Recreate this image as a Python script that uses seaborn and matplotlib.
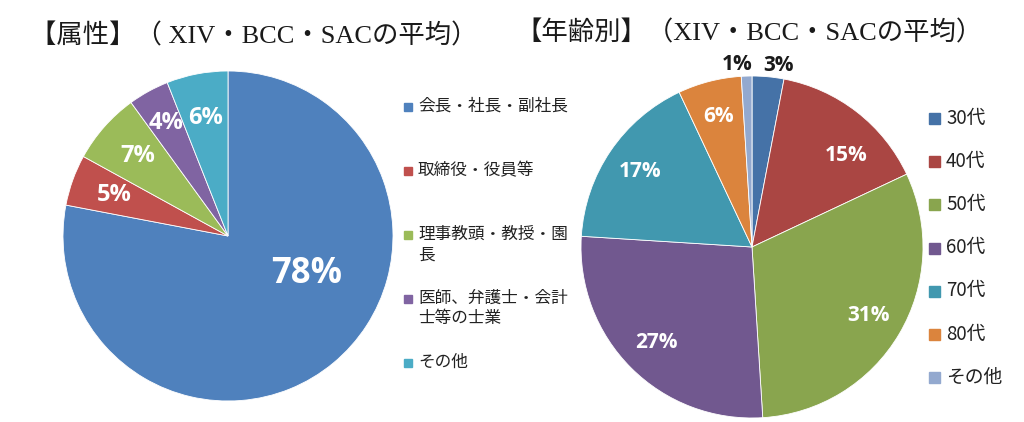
import matplotlib
matplotlib.use("Agg")
import matplotlib.pyplot as plt
from matplotlib.patches import Rectangle
import seaborn as sns
import numpy as np

sns.set_theme(style="white")
plt.rcParams['font.family'] = ['Noto Sans CJK JP', 'DejaVu Sans']

# data
attr_labels = ['会長・社長・副社長', '取締役・役員等', '理事教頭・教授・園\n長',
               '医師、弁護士・会計\n士等の士業', 'その他']
attr_values = [78, 5, 7, 4, 6]
attr_colors = ['#4F81BD', '#C0504D', '#9BBB59', '#8064A2', '#4BACC6']

age_labels = ['30代', '40代', '50代', '60代', '70代', '80代', 'その他']
age_values = [3, 15, 31, 27, 17, 6, 1]
age_colors = ['#4572A7', '#AA4643', '#89A54E', '#71588F', '#4198AF', '#DB843D', '#93A9CF']

W, H = 1024, 422
fig = plt.figure(figsize=(W / 100, H / 100), dpi=100)
fig.patch.set_facecolor('white')


def axes_at(cx, cy, r):
    return fig.add_axes([(cx - r) / W, (H - cy - r) / H, 2 * r / W, 2 * r / H])


def place(txt, wedge, r, dang=0.0):
    ang = np.deg2rad((wedge.theta1 + wedge.theta2) / 2 + dang)
    txt.set_position((r * np.cos(ang), r * np.sin(ang)))


pct_fmt = lambda p: f'{p:.0f}%'
lbl_font = ['Open Sans', 'Noto Sans CJK JP']

# left pie
ax1 = axes_at(228, 236, 165)
w1, _, t1 = ax1.pie(attr_values, colors=attr_colors, startangle=90, counterclock=False,
                    autopct=pct_fmt, pctdistance=0.73,
                    wedgeprops=dict(edgecolor='white', linewidth=0.6))
for t in t1:
    t.set_color('white')
    t.set_fontweight('bold')
    t.set_fontsize(17)
    t.set_family(lbl_font)
t1[0].set_fontsize(25)
place(t1[0], w1[0], 0.53, 25)
place(t1[3], w1[3], 0.78)
ax1.set_xlim(-1, 1)
ax1.set_ylim(-1, 1)
ax1.axis('off')

# right pie
ax2 = axes_at(752, 247, 171)
w2, _, t2 = ax2.pie(age_values, colors=age_colors, startangle=90, counterclock=False,
                    autopct=pct_fmt, pctdistance=0.79,
                    wedgeprops=dict(edgecolor='white', linewidth=0.6))
for t in t2:
    t.set_color('white')
    t.set_fontweight('bold')
    t.set_fontsize(15)
    t.set_family(lbl_font)
place(t2[1], w2[1], 0.77, -8)
for i, dang in [(0, -3), (6, 3)]:
    t2[i].set_color('#1a1a1a')
    place(t2[i], w2[i], 1.07, dang)
ax2.set_xlim(-1, 1)
ax2.set_ylim(-1, 1)
ax2.axis('off')

# titles
title_font = ['Liberation Serif', 'Noto Sans CJK JP']
fig.text(30 / W, 1 - 43 / H, '【属性】（ XIV・BCC・SACの平均）', fontsize=19,
         family=title_font, color='#1a1a1a', va='baseline', ha='left')
fig.text(515 / W, 1 - 40 / H, '【年齢別】（XIV・BCC・SACの平均）', fontsize=19,
         family=title_font, color='#1a1a1a', va='baseline', ha='left')

# legends (drawn by hand so the marker sits on the first line)
for i, (lab, col) in enumerate(zip(attr_labels, attr_colors)):
    y = 107 + i * 64
    fig.patches.append(Rectangle((404 / W, 1 - (y + 4) / H), 8 / W, 8 / H,
                                 transform=fig.transFigure, color=col))
    fig.text(418 / W, 1 - (y - 9) / H, lab, fontsize=12, va='top', ha='left',
             color='#222222', linespacing=1.25)

for i, (lab, col) in enumerate(zip(age_labels, age_colors)):
    y = 118 + i * 43.2
    fig.patches.append(Rectangle((929 / W, 1 - (y + 6) / H), 11 / W, 11 / H,
                                 transform=fig.transFigure, color=col))
    fig.text(946 / W, 1 - y / H, lab, fontsize=13.5, va='center', ha='left',
             color='#222222')

fig.savefig('out.png', dpi=100, facecolor='white')
